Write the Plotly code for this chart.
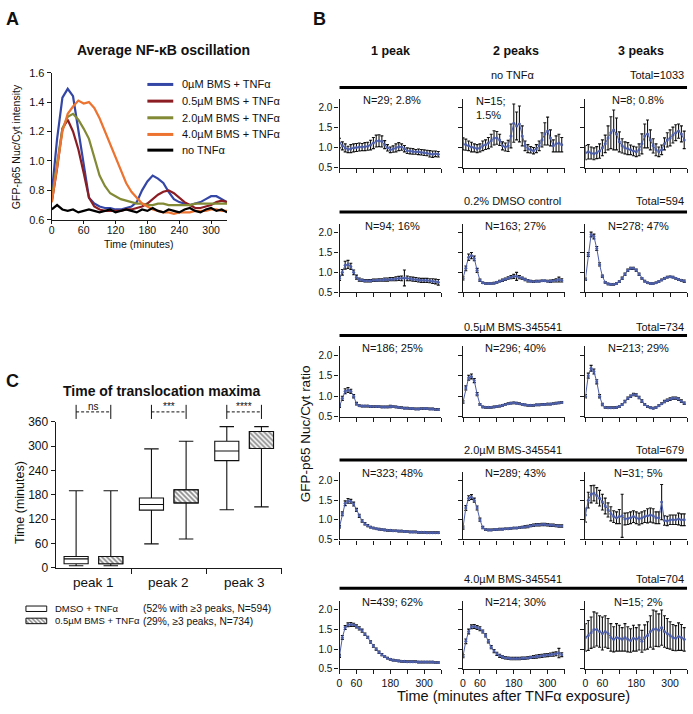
import plotly.graph_objects as go

W, H = 693, 714
FONT = "Liberation Sans, Arial, Helvetica, sans-serif"

# ---------------- Panel A data ----------------
a_time = [0, 10, 20, 30, 40, 50, 60, 70, 80, 90, 100, 110, 120, 130, 140, 150, 160,
          170, 180, 190, 200, 210, 220, 230, 240, 250, 260, 270, 280, 290, 300, 310, 320, 330]
a_names = ["0µM BMS + TNFα", "0.5µM BMS + TNFα", "2.0µM BMS + TNFα", "4.0µM BMS + TNFα", "no TNFα"]
a_bms0 = [0.78, 1.15, 1.43, 1.49, 1.44, 1.22, 0.98, 0.75, 0.71, 0.69, 0.68, 0.68, 0.67, 0.67,
          0.68, 0.69, 0.72, 0.80, 0.86, 0.90, 0.88, 0.85, 0.79, 0.74, 0.72, 0.71, 0.70, 0.71,
          0.72, 0.74, 0.76, 0.76, 0.74, 0.72]
a_bms05 = [0.72, 0.95, 1.22, 1.28, 1.20, 1.08, 0.92, 0.75, 0.69, 0.67, 0.66, 0.66, 0.66, 0.66,
           0.67, 0.67, 0.68, 0.69, 0.71, 0.74, 0.77, 0.79, 0.80, 0.78, 0.75, 0.72, 0.70, 0.68,
           0.68, 0.69, 0.70, 0.72, 0.73, 0.72]
a_bms2 = [0.75, 1.00, 1.22, 1.30, 1.32, 1.28, 1.22, 1.15, 1.02, 0.90, 0.83, 0.78, 0.76, 0.74,
          0.73, 0.72, 0.71, 0.71, 0.70, 0.70, 0.71, 0.71, 0.70, 0.70, 0.70, 0.70, 0.70, 0.71,
          0.71, 0.71, 0.71, 0.71, 0.71, 0.71]
a_bms4 = [0.72, 0.95, 1.20, 1.32, 1.37, 1.41, 1.39, 1.40, 1.36, 1.29, 1.20, 1.11, 1.03, 0.94,
          0.85, 0.79, 0.75, 0.71, 0.69, 0.67, 0.66, 0.65, 0.65, 0.64, 0.65, 0.65, 0.65, 0.66,
          0.66, 0.66, 0.67, 0.67, 0.66, 0.66]
a_notnf = [0.67, 0.70, 0.67, 0.66, 0.67, 0.65, 0.66, 0.67, 0.66, 0.65, 0.66, 0.67, 0.65, 0.66,
           0.67, 0.66, 0.65, 0.67, 0.66, 0.68, 0.66, 0.65, 0.67, 0.66, 0.65, 0.67, 0.68, 0.66,
           0.65, 0.67, 0.68, 0.66, 0.67, 0.65]
a_colors = ["#3446a6", "#8c1d22", "#828a36", "#ec7330", "#000000"]
a_xticks = [0, 60, 120, 180, 240, 300]
a_yticks = [0.6, 0.8, 1.0, 1.2, 1.4, 1.6]

# ---------------- Panel B data ----------------
b_time = [0, 10, 20, 30, 40, 50, 60, 70, 80, 90, 100, 110, 120, 130, 140, 150, 160, 170,
          180, 190, 200, 210, 220, 230, 240, 250, 260, 270, 280, 290, 300, 310, 320, 330, 340, 350]
b_cols = ["1 peak", "2 peaks", "3 peaks"]
b_rows = ["no TNFα", "0.2% DMSO control", "0.5µM BMS-345541", "2.0µM BMS-345541", "4.0µM BMS-345541"]
b_totals = [1033, 594, 734, 679, 704]
b_nlabels = [["N=29; 2.8%", "N=15;<br>1.5%", "N=8; 0.8%"],
             ["N=94; 16%", "N=163; 27%", "N=278; 47%"],
             ["N=186; 25%", "N=296; 40%", "N=213; 29%"],
             ["N=323; 48%", "N=289; 43%", "N=31; 5%"],
             ["N=439; 62%", "N=214; 30%", "N=15; 2%"]]
b_xticks = [0, 60, 120, 180, 240, 300, 360]
b_xticktext = ["0", "60", "", "180", "", "300", ""]
b_yticks = [0.5, 1.0, 1.5, 2.0]

notnf_1p = [1.12, 1.05, 1.00, 0.96, 0.98, 1.00,
            1.01, 1.02, 1.02, 1.03, 1.04, 1.07,
            1.12, 1.17, 1.18, 1.16, 1.08, 1.00,
            0.95, 0.97, 1.00, 1.03, 1.02, 0.98,
            0.93, 0.92, 0.91, 0.90, 0.90, 0.89,
            0.88, 0.87, 0.85, 0.84, 0.85, 0.84]
notnf_1p_err = [0.12, 0.10, 0.10, 0.08, 0.10, 0.10,
                0.10, 0.10, 0.09, 0.10, 0.10, 0.12,
                0.14, 0.15, 0.15, 0.14, 0.10, 0.08,
                0.07, 0.08, 0.10, 0.10, 0.08, 0.08,
                0.07, 0.07, 0.07, 0.06, 0.07, 0.07,
                0.07, 0.07, 0.08, 0.08, 0.07, 0.07]
notnf_2p = [1.10, 1.08, 1.05, 1.02, 1.00, 0.98,
            1.00, 1.05, 1.08, 1.12, 1.18, 1.25,
            1.25, 1.20, 1.05, 1.02, 1.05, 1.30,
            1.62, 1.55, 1.60, 1.30, 1.05, 0.98,
            0.95, 0.93, 0.98, 1.05, 1.20, 1.35,
            1.42, 1.25, 1.05, 1.10, 1.12, 1.08]
notnf_2p_err = [0.15, 0.14, 0.12, 0.12, 0.10, 0.10,
                0.10, 0.12, 0.12, 0.14, 0.16, 0.18,
                0.16, 0.14, 0.10, 0.10, 0.14, 0.30,
                0.48, 0.35, 0.45, 0.25, 0.12, 0.10,
                0.08, 0.08, 0.10, 0.12, 0.18, 0.28,
                0.35, 0.20, 0.15, 0.20, 0.22, 0.18]
notnf_3p = [0.88, 0.90, 0.87, 0.85, 0.88, 0.92,
            1.00, 1.10, 1.25, 1.38, 1.45, 1.35,
            1.15, 1.05, 1.00, 0.98, 0.95, 0.92,
            0.90, 0.95, 1.10, 1.30, 1.35, 1.20,
            1.05, 0.95, 0.90, 0.95, 1.10, 1.20,
            1.25, 1.32, 1.38, 1.42, 1.35, 1.20]
notnf_3p_err = [0.18, 0.18, 0.15, 0.15, 0.15, 0.18,
                0.20, 0.22, 0.30, 0.40, 0.50, 0.40,
                0.25, 0.18, 0.15, 0.15, 0.12, 0.12,
                0.12, 0.15, 0.25, 0.30, 0.35, 0.25,
                0.18, 0.15, 0.12, 0.12, 0.15, 0.18,
                0.20, 0.20, 0.20, 0.18, 0.20, 0.22]

dmso_1p = [0.85, 1.00, 1.18, 1.20, 1.15, 1.00,
           0.88, 0.82, 0.80, 0.79, 0.79, 0.79,
           0.80, 0.80, 0.81, 0.81, 0.82, 0.82,
           0.83, 0.83, 0.84, 0.85, 0.85, 0.86,
           0.85, 0.84, 0.83, 0.82, 0.81, 0.80,
           0.80, 0.80, 0.79, 0.78, 0.77, 0.75]
dmso_1p_err = [0.05, 0.07, 0.10, 0.10, 0.08, 0.06,
               0.05, 0.04, 0.03, 0.03, 0.03, 0.03,
               0.03, 0.03, 0.03, 0.03, 0.04, 0.04,
               0.04, 0.04, 0.05, 0.05, 0.06, 0.20,
               0.06, 0.05, 0.05, 0.05, 0.05, 0.05,
               0.05, 0.05, 0.05, 0.06, 0.06, 0.07]
dmso_2p = [0.85, 1.10, 1.38, 1.42, 1.35, 1.05,
           0.80, 0.74, 0.72, 0.72, 0.72, 0.73,
           0.75, 0.78, 0.80, 0.83, 0.86, 0.88,
           0.90, 0.90, 0.88, 0.85, 0.82, 0.79,
           0.78, 0.77, 0.78, 0.78, 0.79, 0.79,
           0.78, 0.78, 0.79, 0.80, 0.82, 0.80]
dmso_2p_err = [0.04, 0.06, 0.08, 0.08, 0.06, 0.05,
               0.03, 0.02, 0.02, 0.02, 0.02, 0.02,
               0.02, 0.02, 0.03, 0.03, 0.03, 0.04,
               0.05, 0.10, 0.04, 0.03, 0.03, 0.03,
               0.02, 0.02, 0.02, 0.02, 0.02, 0.02,
               0.02, 0.03, 0.03, 0.04, 0.06, 0.04]
dmso_3p = [0.83, 1.45, 1.95, 1.90, 1.60, 1.20,
           0.90, 0.75, 0.71, 0.70, 0.70, 0.72,
           0.77, 0.85, 0.95, 1.05, 1.10, 1.10,
           1.05, 0.95, 0.85, 0.78, 0.74, 0.72,
           0.72, 0.74, 0.77, 0.81, 0.85, 0.88,
           0.89, 0.88, 0.85, 0.82, 0.80, 0.78]
dmso_3p_err = [0.03, 0.05, 0.06, 0.06, 0.05, 0.04,
               0.03, 0.02, 0.02, 0.02, 0.02, 0.02,
               0.02, 0.03, 0.03, 0.03, 0.03, 0.03,
               0.03, 0.03, 0.02, 0.02, 0.02, 0.02,
               0.02, 0.02, 0.02, 0.02, 0.02, 0.02,
               0.02, 0.02, 0.02, 0.02, 0.02, 0.03]

bms05_1p = [0.76, 0.95, 1.12, 1.15, 1.12, 1.00,
            0.82, 0.77, 0.76, 0.76, 0.76, 0.75,
            0.75, 0.75, 0.75, 0.74, 0.74, 0.74,
            0.75, 0.75, 0.74, 0.73, 0.72, 0.71,
            0.71, 0.70, 0.70, 0.69, 0.69, 0.70,
            0.70, 0.70, 0.69, 0.69, 0.68, 0.68]
bms05_1p_err = [0.03, 0.05, 0.06, 0.06, 0.05, 0.04,
                0.03, 0.02, 0.02, 0.02, 0.02, 0.02,
                0.02, 0.02, 0.02, 0.02, 0.02, 0.02,
                0.03, 0.02, 0.02, 0.02, 0.02, 0.02,
                0.02, 0.02, 0.02, 0.02, 0.02, 0.02,
                0.02, 0.02, 0.02, 0.02, 0.02, 0.02]
bms05_2p = [0.86, 1.20, 1.45, 1.48, 1.38, 1.05,
            0.80, 0.74, 0.73, 0.73, 0.73, 0.74,
            0.75, 0.76, 0.78, 0.80, 0.82, 0.83,
            0.84, 0.83, 0.82, 0.80, 0.79, 0.78,
            0.78, 0.78, 0.79, 0.79, 0.80, 0.80,
            0.81, 0.81, 0.82, 0.83, 0.84, 0.85]
bms05_2p_err = [0.03, 0.05, 0.06, 0.06, 0.05, 0.04,
                0.02, 0.02, 0.02, 0.02, 0.02, 0.02,
                0.02, 0.02, 0.02, 0.02, 0.02, 0.02,
                0.02, 0.02, 0.02, 0.02, 0.02, 0.02,
                0.02, 0.02, 0.02, 0.02, 0.02, 0.02,
                0.02, 0.02, 0.02, 0.02, 0.02, 0.02]
bms05_3p = [1.00, 1.50, 1.68, 1.60, 1.35, 1.00,
            0.80, 0.73, 0.72, 0.72, 0.72, 0.73,
            0.75, 0.80, 0.87, 0.95, 1.00, 1.04,
            1.03, 0.97, 0.88, 0.80, 0.75, 0.72,
            0.71, 0.73, 0.77, 0.82, 0.87, 0.90,
            0.93, 0.95, 0.95, 0.93, 0.88, 0.83]
bms05_3p_err = [0.04, 0.06, 0.07, 0.06, 0.05, 0.04,
                0.03, 0.02, 0.02, 0.02, 0.02, 0.02,
                0.02, 0.02, 0.03, 0.03, 0.03, 0.03,
                0.03, 0.03, 0.03, 0.02, 0.02, 0.02,
                0.02, 0.02, 0.02, 0.02, 0.03, 0.03,
                0.03, 0.03, 0.03, 0.03, 0.03, 0.03]

bms2_1p = [0.82, 1.15, 1.42, 1.48, 1.47, 1.40,
           1.25, 1.10, 0.97, 0.90, 0.85, 0.81,
           0.79, 0.77, 0.76, 0.75, 0.74, 0.73,
           0.73, 0.72, 0.72, 0.71, 0.71, 0.70,
           0.70, 0.69, 0.69, 0.69, 0.68, 0.68,
           0.68, 0.67, 0.67, 0.67, 0.67, 0.67]
bms2_1p_err = [0.03, 0.05, 0.06, 0.06, 0.05, 0.05,
               0.04, 0.04, 0.03, 0.03, 0.03, 0.02,
               0.02, 0.02, 0.02, 0.02, 0.02, 0.02,
               0.02, 0.02, 0.02, 0.02, 0.02, 0.02,
               0.02, 0.02, 0.02, 0.02, 0.02, 0.02,
               0.02, 0.02, 0.02, 0.02, 0.02, 0.02]
bms2_2p = [0.80, 1.30, 1.55, 1.58, 1.50, 1.30,
           1.00, 0.80, 0.75, 0.74, 0.74, 0.75,
           0.75, 0.76, 0.76, 0.77, 0.77, 0.78,
           0.79, 0.79, 0.80, 0.81, 0.82, 0.83,
           0.85, 0.86, 0.87, 0.87, 0.88, 0.88,
           0.87, 0.86, 0.86, 0.85, 0.84, 0.84]
bms2_2p_err = [0.04, 0.06, 0.06, 0.06, 0.05, 0.05,
               0.04, 0.03, 0.02, 0.02, 0.02, 0.02,
               0.02, 0.02, 0.02, 0.02, 0.02, 0.02,
               0.02, 0.02, 0.02, 0.02, 0.03, 0.03,
               0.03, 0.03, 0.03, 0.03, 0.03, 0.03,
               0.03, 0.03, 0.03, 0.03, 0.03, 0.03]
bms2_3p = [1.12, 1.50, 1.65, 1.68, 1.62, 1.55,
           1.45, 1.35, 1.25, 1.15, 1.08, 1.05,
           1.08, 1.10, 1.02, 1.03, 1.05, 1.08,
           1.05, 1.02, 1.05, 1.08, 1.10, 1.12,
           1.10, 1.05, 1.05, 1.45, 0.98, 0.97,
           1.00, 1.00, 1.00, 1.02, 1.00, 1.00]
bms2_3p_err = [0.18, 0.20, 0.22, 0.20, 0.20, 0.20,
               0.20, 0.20, 0.18, 0.18, 0.15, 0.15,
               0.18, 0.55, 0.15, 0.15, 0.15, 0.15,
               0.15, 0.15, 0.15, 0.15, 0.18, 0.18,
               0.18, 0.15, 0.15, 0.45, 0.12, 0.12,
               0.12, 0.12, 0.12, 0.15, 0.15, 0.15]

bms4_1p = [0.83, 1.30, 1.55, 1.62, 1.63, 1.62,
           1.58, 1.53, 1.47, 1.38, 1.30, 1.18,
           1.08, 1.00, 0.92, 0.86, 0.81, 0.77,
           0.74, 0.72, 0.71, 0.70, 0.69, 0.69,
           0.68, 0.68, 0.68, 0.68, 0.67, 0.67,
           0.67, 0.67, 0.67, 0.67, 0.66, 0.66]
bms4_1p_err = [0.04, 0.05, 0.05, 0.05, 0.05, 0.04,
               0.04, 0.04, 0.04, 0.03, 0.03, 0.03,
               0.03, 0.03, 0.03, 0.03, 0.02, 0.02,
               0.02, 0.02, 0.02, 0.02, 0.02, 0.02,
               0.02, 0.02, 0.02, 0.02, 0.02, 0.02,
               0.02, 0.02, 0.02, 0.02, 0.02, 0.02]
bms4_2p = [0.82, 1.20, 1.45, 1.57, 1.58, 1.55,
           1.52, 1.45, 1.35, 1.20, 1.05, 0.95,
           0.88, 0.83, 0.80, 0.78, 0.77, 0.76,
           0.76, 0.76, 0.76, 0.77, 0.77, 0.78,
           0.79, 0.80, 0.81, 0.82, 0.83, 0.84,
           0.85, 0.86, 0.87, 0.88, 0.90, 0.86]
bms4_2p_err = [0.04, 0.06, 0.06, 0.05, 0.05, 0.05,
               0.05, 0.04, 0.04, 0.04, 0.04, 0.04,
               0.04, 0.04, 0.03, 0.03, 0.03, 0.03,
               0.03, 0.03, 0.03, 0.03, 0.03, 0.03,
               0.03, 0.04, 0.04, 0.04, 0.04, 0.04,
               0.04, 0.04, 0.05, 0.05, 0.12, 0.05]
bms4_3p = [1.30, 1.35, 1.42, 1.50, 1.50, 1.45,
           1.40, 1.45, 1.40, 1.30, 1.25, 1.30,
           1.28, 1.25, 1.30, 1.25, 1.22, 1.28,
           1.25, 1.30, 1.20, 1.30, 1.35, 1.45,
           1.50, 1.52, 1.48, 1.55, 1.45, 1.40,
           1.35, 1.30, 1.28, 1.32, 1.30, 1.25]
bms4_3p_err = [0.35, 0.38, 0.40, 0.45, 0.42, 0.40,
               0.42, 0.40, 0.38, 0.35, 0.32, 0.35,
               0.33, 0.30, 0.35, 0.32, 0.30, 0.33,
               0.30, 0.32, 0.28, 0.32, 0.35, 0.40,
               0.50, 0.45, 0.42, 0.45, 0.40, 0.38,
               0.35, 0.33, 0.32, 0.35, 0.33, 0.30]

# ---------------- Panel C data ----------------
c_groups = ["peak 1", "peak 2", "peak 3"]
c_dmso_low = [5, 59, 143]
c_dmso_q1 = [10, 142, 264]
c_dmso_med = [22, 156, 288]
c_dmso_q3 = [28, 172, 312]
c_dmso_high = [190, 293, 348]
c_bms_low = [5, 71, 150]
c_bms_q1 = [10, 160, 294]
c_bms_med = [20, 175, 318]
c_bms_q3 = [28, 192, 336]
c_bms_high = [190, 312, 348]
c_sig = ["ns", "***", "****"]
c_yticks = [0, 60, 120, 180, 240, 300, 360]
c_legend_names = ["DMSO + TNFα", "0.5µM BMS + TNFα"]
c_legend_notes = ["(52% with ≥3 peaks, N=594)", "(29%, ≥3 peaks, N=734)"]

# ---------------- helpers ----------------
def px(x):
    return x / W


def py(y):
    return 1 - y / H


def ax(**kw):
    d = dict(showline=True, linecolor="#1a1a1a", linewidth=1.3, ticks="outside", ticklen=4,
             tickwidth=1.2, tickcolor="#1a1a1a", showgrid=False, zeroline=False,
             tickfont=dict(family=FONT, size=10, color="#111"), fixedrange=True)
    d.update(kw)
    return d


fig = go.Figure()
ann = []
shapes = []
lay = dict(width=W, height=H, margin=dict(l=0, r=0, t=0, b=0), paper_bgcolor="white",
           plot_bgcolor="white", showlegend=False, font=dict(family=FONT, size=11, color="#111"),
           barmode="overlay", boxmode="overlay")


def text(t, x, y, size=11, bold=False, xanchor="center", yanchor="middle", angle=0, **kw):
    if bold:
        t = "<b>" + t + "</b>"
    d = dict(text=t, x=x, y=y, xref=kw.pop("xref", "paper"), yref=kw.pop("yref", "paper"),
             showarrow=False, xanchor=xanchor, yanchor=yanchor, textangle=angle,
             font=dict(family=FONT, size=size, color="#111"))
    d.update(kw)
    ann.append(d)


# ---------------- Panel A ----------------
lay["xaxis"] = ax(domain=[px(49), px(225)], range=[0, 330], anchor="y", tickvals=a_xticks,
                  ticklen=3, ticklabelstandoff=-2,
                  tickfont=dict(family=FONT, size=10.5, color="#111"))
lay["yaxis"] = ax(domain=[py(217), py(67)], range=[0.6, 1.6], anchor="x", tickvals=a_yticks,
                  tickformat=".1f", tickfont=dict(family=FONT, size=11, color="#111"))
a_series = [a_bms0, a_bms05, a_bms2, a_bms4, a_notnf]
for name, vals, col in zip(a_names, a_series, a_colors):
    fig.add_trace(go.Scatter(x=a_time, y=vals, mode="lines", name=name,
                             line=dict(color=col, width=2.2), xaxis="x", yaxis="y"))
leg_rows = [79, 96, 113, 130, 146]
for name, col, yy in zip(a_names, a_colors, leg_rows):
    shapes.append(dict(type="line", xref="paper", yref="paper", x0=px(145), x1=px(171),
                       y0=py(yy), y1=py(yy), line=dict(color=col, width=3)))
    text(name, px(178), py(yy), size=11, xanchor="left")
text("Average NF-κB oscillation", px(161), py(44), size=14, bold=True)
text("Time (minutes)", px(137), py(242), size=10.5)
text("GFP-p65 Nuc/Cyt intensity", px(13), py(142), size=10.5, angle=-90)
text("A", px(10), py(12), size=18, bold=True)

# ---------------- Panel B ----------------
COL_X = [(338, 440), (462, 564), (585, 687)]
ROW_Y05 = [164, 291, 418, 543, 675]
ROW_Y20 = [103, 230, 355, 483, 615]
ROW_LABEL_Y = [69, 198, 326, 452, 583]
ROW_LINE_Y = [82, 209, 335, 462, 593]
N_Y = [95, 223, 348, 475, 607]
YMAX = 2.22

b_means = [[notnf_1p, notnf_2p, notnf_3p], [dmso_1p, dmso_2p, dmso_3p],
           [bms05_1p, bms05_2p, bms05_3p], [bms2_1p, bms2_2p, bms2_3p],
           [bms4_1p, bms4_2p, bms4_3p]]
b_errs = [[notnf_1p_err, notnf_2p_err, notnf_3p_err], [dmso_1p_err, dmso_2p_err, dmso_3p_err],
          [bms05_1p_err, bms05_2p_err, bms05_3p_err], [bms2_1p_err, bms2_2p_err, bms2_3p_err],
          [bms4_1p_err, bms4_2p_err, bms4_3p_err]]

for r in range(5):
    bottom = ROW_Y05[r]
    top = bottom - (bottom - ROW_Y20[r]) * (YMAX - 0.5) / 1.5
    for c in range(3):
        idx = 2 + r * 3 + c
        x0, x1 = COL_X[c]
        lay[f"xaxis{idx}"] = ax(domain=[px(x0), px(x1)], range=[0, 360], anchor=f"y{idx}",
                                tickvals=b_xticks, ticktext=b_xticktext, showticklabels=(r == 4),
                                tickfont=dict(family=FONT, size=10.5, color="#111"))
        lay[f"yaxis{idx}"] = ax(domain=[py(bottom), py(top)], range=[0.5, YMAX], anchor=f"x{idx}",
                                tickvals=b_yticks, tickformat=".1f", showticklabels=(c == 0))
        fig.add_trace(go.Scatter(
            x=b_time, y=b_means[r][c], mode="lines+markers",
            line=dict(color="#4d5ea8", width=1), marker=dict(size=3, color="#4d5ea8"),
            error_y=dict(type="data", array=b_errs[r][c], visible=True, color="#111",
                         thickness=1.1, width=1.5),
            xaxis=f"x{idx}", yaxis=f"y{idx}"))
        if r == 0 and c == 1:
            text(b_nlabels[r][c], px(473), py(88), size=11, xanchor="left", yanchor="top", align="left")
        else:
            text(b_nlabels[r][c], px((x0 + x1) / 2 + 2), py(N_Y[r]), size=11)
    shapes.append(dict(type="line", xref="paper", yref="paper", x0=px(338), x1=px(687),
                       y0=py(ROW_LINE_Y[r]), y1=py(ROW_LINE_Y[r]), line=dict(color="black", width=3)))
    text(b_rows[r], px(512), py(ROW_LABEL_Y[r]), size=11)
    text(f"Total={b_totals[r]}", px(686), py(ROW_LABEL_Y[r]), size=11, xanchor="right")

for c, name in enumerate(b_cols):
    x0, x1 = COL_X[c]
    text(name, px((x0 + x1) / 2 + [0, 2, 5][c]), py(45), size=12.5, bold=True)
text("GFP-p65 Nuc/Cyt ratio", px(304), py(435), size=13.5, angle=-90)
text("Time (minutes after TNFα exposure)", px(513), py(703), size=14.5)
text("B", px(318), py(12), size=18, bold=True)

# ---------------- Panel C ----------------
C_OFF = 0.23
C_W = 0.32
x_dmso = [i - C_OFF for i in range(len(c_groups))]
x_bms = [i + C_OFF for i in range(len(c_groups))]
lay["xaxis17"] = ax(domain=[px(53), px(280)], range=[-0.5, 2.5], anchor="y17",
                    tickvals=[0.5, 1.5, 2.5], showticklabels=False, ticklen=5)
lay["yaxis17"] = ax(domain=[py(572), py(423)], range=[0, 360], anchor="x17", tickvals=c_yticks,
                    tickfont=dict(family=FONT, size=12, color="#111"))
lay["yaxis19"] = dict(overlaying="y17", anchor="x17", range=[0, 360], visible=False, fixedrange=True)
lay["xaxis18"] = dict(domain=[px(53), px(280)], range=[-0.5, 2.5], visible=False, anchor="y18",
                      fixedrange=True)
lay["yaxis18"] = dict(domain=[py(421), py(405)], range=[0, 1], visible=False, anchor="x18",
                      fixedrange=True)
lay["xaxis20"] = dict(domain=[px(22), px(45)], range=[-0.05, 1.05], visible=False, anchor="y20",
                      fixedrange=True)
lay["yaxis20"] = dict(domain=[py(632.4), py(607.6)], range=[0, 2], visible=False, anchor="x20",
                      fixedrange=True)

HATCH = dict(shape="\\", fgcolor="#111", bgcolor="white", size=3.5, solidity=0.5)
fig.add_trace(go.Box(x=x_dmso, q1=c_dmso_q1, median=c_dmso_med, q3=c_dmso_q3,
                     lowerfence=c_dmso_low, upperfence=c_dmso_high, width=C_W, whiskerwidth=0.6,
                     fillcolor="white", line=dict(color="#111", width=1.1), boxpoints=False,
                     xaxis="x17", yaxis="y17"))
fig.add_trace(go.Box(x=x_bms, q1=c_bms_q1, median=c_bms_med, q3=c_bms_q3,
                     lowerfence=c_bms_low, upperfence=c_bms_high, width=C_W, whiskerwidth=0.6,
                     fillcolor="rgba(0,0,0,0)", line=dict(color="#111", width=1.1), boxpoints=False,
                     xaxis="x17", yaxis="y17"))
fig.add_trace(go.Bar(x=x_bms, y=[q3 - q1 for q1, q3 in zip(c_bms_q1, c_bms_q3)], base=c_bms_q1,
                     width=C_W,
                     marker=dict(color="white", line=dict(color="#111", width=1.1), pattern=HATCH),
                     xaxis="x17", yaxis="y19"))

for i, s in enumerate(c_sig):
    a, b = x_dmso[i], x_bms[i]
    fig.add_trace(go.Scatter(x=[a, b], y=[0.5, 0.5], mode="lines",
                             line=dict(color="#111", width=1, dash="3px,2px"),
                             xaxis="x18", yaxis="y18"))
    fig.add_trace(go.Scatter(x=[a, a, None, b, b], y=[0.05, 0.95, None, 0.05, 0.95], mode="lines",
                             line=dict(color="#111", width=1), xaxis="x18", yaxis="y18"))
    text(s, i, 0.5, size=10, xref="x18", yref="y18", yanchor="bottom", yshift=-2)

for i, g in enumerate(c_groups):
    text(g, i, py(587), size=13.5, xref="x17")

# legend keys for panel C
fig.add_trace(go.Bar(x=[1], y=[1.5], base=0, orientation="h", width=0.45,
                     marker=dict(color="white", line=dict(color="#111", width=1)),
                     xaxis="x20", yaxis="y20"))
fig.add_trace(go.Bar(x=[1], y=[0.5], base=0, orientation="h", width=0.45,
                     marker=dict(color="white", line=dict(color="#111", width=1),
                                 pattern=dict(shape="\\", fgcolor="#111", bgcolor="white",
                                              size=3, solidity=0.5)),
                     xaxis="x20", yaxis="y20"))
text("<br>".join(c_legend_names), px(50), py(620), size=9.5, xanchor="left", align="left")
text("<br>".join(c_legend_notes), px(139), py(620), size=10.2, xanchor="left", align="left")

text("Time of translocation maxima", px(160), py(392), size=14, bold=True)
text("Time (minutes)", px(17), py(505), size=12.5, angle=-90)
text("C", px(10), py(381), size=18, bold=True)

lay["annotations"] = ann
lay["shapes"] = shapes
fig.update_layout(**lay)
fig.write_html("out.html", config={"displayModeBar": False},
               post_script="document.body.style.margin='0px';document.body.style.overflow='hidden';")
